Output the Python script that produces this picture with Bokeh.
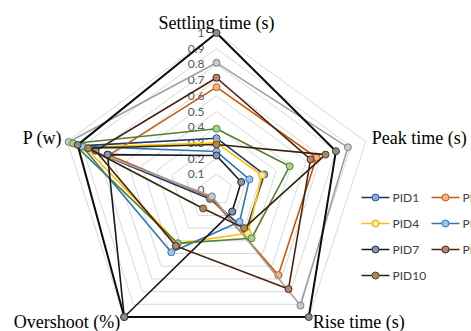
import numpy as np
from bokeh.plotting import figure
from bokeh.models import Range1d
from bokeh.core.properties import value
from bokeh.embed import file_html
from bokeh.resources import INLINE

# Radar axes, clockwise from the top
axis_names = ["Settling time (s)", "Peak time (s)", "Rise time (s)", "Overshoot (%)", "P (w)"]

# Normalised scale rings and their labels
ring_levels = [0.1, 0.2, 0.3, 0.4, 0.5, 0.6, 0.7, 0.8, 0.9, 1.0]
tick_values = [0, 0.1, 0.2, 0.3, 0.4, 0.5, 0.6, 0.7, 0.8, 0.9, 1.0]
tick_labels = ["0", "0.1", "0.2", "0.3", "0.4", "0.5", "0.6", "0.7", "0.8", "0.9", "1"]

# Series names and normalised values (settling, peak, rise, overshoot, power)
series_names = ["PID1", "PID2", "PID3", "PID4", "PID5", "PID6", "PID7", "PID8", "PID9", "PID10"]
pid1 = [0.33, 0.32, 0.32, 0.07, 0.91]
pid2 = [0.655, 0.67, 0.67, 0.06, 0.72]
pid3 = [0.81, 0.88, 0.91, 0.05, 0.99]
pid4 = [0.30, 0.305, 0.34, 0.42, 0.88]
pid5 = [0.245, 0.22, 0.25, 0.49, 0.90]
pid6 = [0.39, 0.49, 0.38, 0.42, 0.96]
pid7 = [0.22, 0.165, 0.17, 1.0, 0.73]
pid8 = [0.715, 0.63, 0.78, 0.44, 0.81]
pid9 = [1.0, 0.80, 1.0, 1.0, 0.93]
pid10 = [0.29, 0.73, 0.30, 0.145, 0.86]
series_values = [pid1, pid2, pid3, pid4, pid5, pid6, pid7, pid8, pid9, pid10]

# Styles: line colour, marker fill, marker outline, line width
styles = [
    ("#1f3864", "#8faadc", "#2f5597", 1.6),
    ("#c55a11", "#f4b183", "#c55a11", 1.6),
    ("#a0a0a0", "#c8c8c8", "#7f7f7f", 1.6),
    ("#ffc000", "#ffe699", "#e0a800", 1.6),
    ("#2e75b6", "#9dc3e6", "#2e75b6", 1.6),
    ("#548235", "#a9d18e", "#548235", 1.6),
    ("#141820", "#8497b0", "#222a35", 1.6),
    ("#4a2412", "#b58473", "#4a2412", 1.6),
    ("#0d0d0d", "#8c8c8c", "#3a3a3a", 2.0),
    ("#33220c", "#a88a5c", "#5c4418", 1.6),
]

# Canvas geometry: pixels per unit radius and the radar centre in pixels
W, H = 471, 331
SCALE = 157.0
CX, CY = 216.0, 189.5

n_axes = len(axis_names)
angles = np.pi / 2 - 2 * np.pi * np.arange(n_axes) / n_axes
ux, uy = np.cos(angles), np.sin(angles)


def px_x(px):
    return (px - CX) / SCALE


def px_y(py):
    return (CY - py) / SCALE


def ring(vals):
    vals = np.asarray(vals, dtype=float)
    xs = list(vals * ux) + [vals[0] * ux[0]]
    ys = list(vals * uy) + [vals[0] * uy[0]]
    return xs, ys


p = figure(
    width=W, height=H,
    x_range=Range1d(px_x(0), px_x(W)),
    y_range=Range1d(px_y(H), px_y(0)),
    output_backend="svg", toolbar_location=None,
    x_axis_location=None, y_axis_location=None,
    min_border=0, outline_line_color=None,
)
p.grid.visible = False
p.background_fill_color = "white"
p.border_fill_color = "white"

# Concentric pentagon grid
for lv in ring_levels:
    gx, gy = ring([lv] * n_axes)
    p.line(gx, gy, line_color="#d9d9d9", line_width=1)

# Scale labels along the top axis
p.text(x=[0] * len(tick_values), y=list(tick_values), text=tick_labels,
       text_font=value("Lato"), text_font_size="12px", text_color="#595959",
       text_align="right", text_baseline="middle", x_offset=-12)

# Series polygons with markers
for name, vals, (lc, mf, mo, lw) in zip(series_names, series_values, styles):
    xs, ys = ring(vals)
    p.line(xs, ys, line_color=lc, line_width=lw, line_join="round")
    p.scatter(xs[:-1], ys[:-1], marker="circle", size=7,
              fill_color=mf, line_color=mo, line_width=1)

# Axis titles around the outer ring
title_x = list(ux)
title_y = list(uy)
title_align = ["center", "left", "left", "right", "right"]
title_base = ["alphabetic", "middle", "middle", "middle", "middle"]
title_dx = [0, 6, 4, -4, -5]
title_dy = [-10, -3, 5, 5, -3]
for i in range(n_axes):
    p.text(x=[title_x[i]], y=[title_y[i]], text=[axis_names[i]],
           text_font=value("Liberation Serif"), text_font_size="18px",
           text_color="#000000", text_align=title_align[i],
           text_baseline=title_base[i], x_offset=title_dx[i], y_offset=title_dy[i])

# Legend: three columns, row-major, running off the right edge
LEG_X0, LEG_Y0 = 361, 197
COL_W, ROW_H = 70, 26
for i, (name, (lc, mf, mo, lw)) in enumerate(zip(series_names, styles)):
    r, c = divmod(i, 3)
    x0 = LEG_X0 + c * COL_W
    y0 = LEG_Y0 + r * ROW_H
    p.line([px_x(x0), px_x(x0 + 28)], [px_y(y0), px_y(y0)],
           line_color=lc, line_width=lw)
    p.scatter([px_x(x0 + 14)], [px_y(y0)], marker="circle", size=7,
              fill_color=mf, line_color=mo, line_width=1)
    p.text(x=[px_x(x0 + 31)], y=[px_y(y0)], text=[name],
           text_font=value("Lato"), text_font_size="12px", text_color="#404040",
           text_align="left", text_baseline="middle")

open("out.html", "w").write(file_html(p, INLINE))
